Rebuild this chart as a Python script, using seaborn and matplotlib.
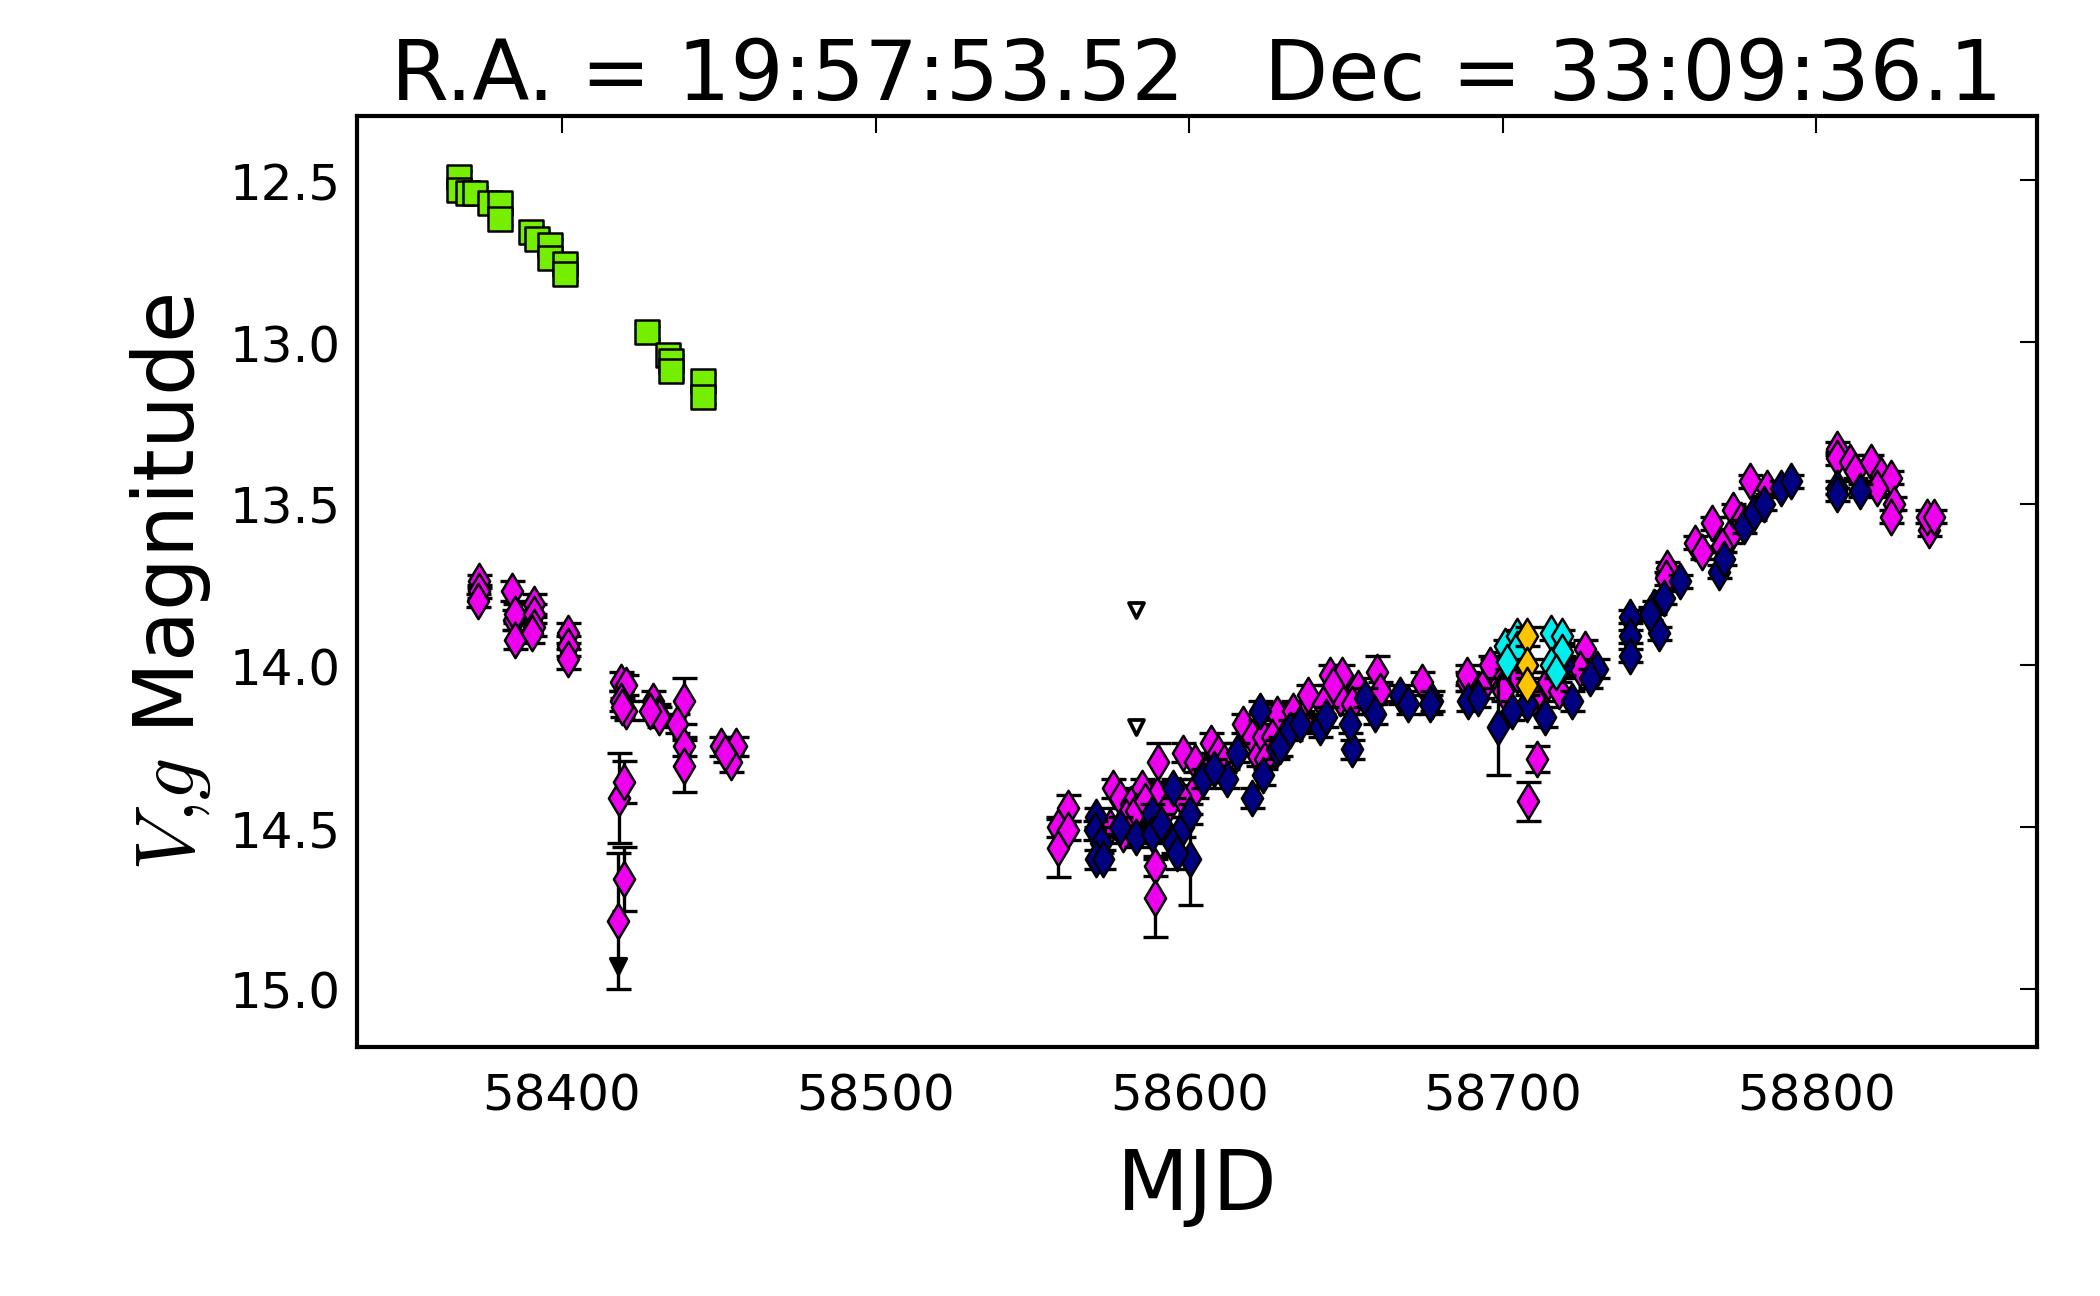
import numpy as np
import matplotlib
matplotlib.use("Agg")
import matplotlib.pyplot as plt
import seaborn as sns

# ---------------- data ----------------
# V-band (green squares)
mjd_V = [58367.2, 58367.2, 58370.0, 58372.3, 58377.0, 58380.2, 58380.2, 58390.0, 58392.0,
         58396.1, 58396.1, 58401.0, 58401.0, 58427.1, 58433.9, 58434.8, 58434.8, 58445.1, 58445.1]
mag_V = [12.49, 12.53, 12.54, 12.54, 12.57, 12.57, 12.62, 12.66, 12.68,
         12.70, 12.74, 12.76, 12.79, 12.97, 13.04, 13.06, 13.09, 13.12, 13.17]
err_V = [0.02, 0.02, 0.02, 0.02, 0.02, 0.02, 0.02, 0.02, 0.02,
         0.02, 0.02, 0.02, 0.02, 0.02, 0.02, 0.02, 0.02, 0.02, 0.02]

# g-band camera 1 (magenta diamonds)
mjd_g1 = [58373.6, 58373.6, 58373.3, 58383.9, 58384.6, 58385.0, 58385.0, 58391.0, 58391.0,
          58391.0, 58390.5, 58401.8, 58401.8, 58401.8, 58418.8, 58420.4, 58418.8, 58420.4,
          58419.0, 58418.0, 58419.6, 58419.6, 58417.7, 58428.9, 58430.5, 58431.0, 58428.0,
          58439.0, 58436.7, 58439.0, 58439.0, 58450.7, 58455.5, 58453.9, 58452.0,
          58558.2, 58558.2, 58561.2, 58561.2, 58575.7, 58577.9, 58574.7, 58578.8, 58581.6,
          58585.1, 58590.1, 58589.9, 58589.0, 58589.0, 58580.0, 58583.0, 58586.0,
          58598.1, 58601.8, 58607.1, 58609.2, 58602.3, 58597.0, 58605.0, 58593.0, 58611.0,
          58617.2, 58625.7, 58627.9, 58620.0, 58622.0, 58623.6, 58624.2, 58626.3,
          58633.0, 58636.0, 58638.0, 58644.9, 58648.6, 58648.1, 58642.8, 58654.0, 58659.8,
          58660.9, 58674.2, 58688.5, 58693.3, 58696.5, 58646.0, 58652.0,
          58688.5, 58696.0, 58704.5, 58714.6, 58726.4, 58724.8, 58711.0, 58708.2,
          58700.0, 58710.0, 58718.0,
          58752.4, 58752.0, 58761.4, 58763.5, 58766.7, 58772.6, 58773.6, 58779.0, 58784.3,
          58770.0, 58776.0,
          58806.6, 58806.6, 58810.9, 58812.5, 58817.3, 58820.5, 58823.7, 58819.4, 58824.8,
          58823.7, 58835.9, 58835.4, 58837.5]
mag_g1 = [13.74, 13.77, 13.80, 13.77, 13.86, 13.84, 13.92, 13.81, 13.84,
          13.88, 13.90, 13.90, 13.94, 13.98, 14.05, 14.06, 14.11, 14.14,
          14.13, 14.41, 14.36, 14.66, 14.79, 14.11, 14.15, 14.16, 14.14,
          14.11, 14.18, 14.25, 14.31, 14.25, 14.25, 14.30, 14.27,
          14.50, 14.565, 14.44, 14.51, 14.38, 14.41, 14.50, 14.52, 14.43,
          14.38, 14.30, 14.40, 14.62, 14.72, 14.47, 14.45, 14.42,
          14.27, 14.30, 14.24, 14.27, 14.38, 14.40, 14.33, 14.44, 14.30,
          14.18, 14.24, 14.15, 14.22, 14.28, 14.22, 14.29, 14.22,
          14.14, 14.17, 14.09, 14.03, 14.03, 14.10, 14.12, 14.07, 14.02,
          14.08, 14.05, 14.05, 14.07, 14.01, 14.06, 14.12,
          14.03, 14.00, 14.03, 14.05, 13.95, 14.01, 14.29, 14.42,
          14.08, 14.10, 14.08,
          13.70, 13.73, 13.62, 13.65, 13.56, 13.60, 13.52, 13.43, 13.45,
          13.63, 13.55,
          13.33, 13.36, 13.37, 13.40, 13.37, 13.41, 13.42, 13.45, 13.50,
          13.54, 13.58, 13.54, 13.54]
err_g1 = [0.02, 0.02, 0.02, 0.03, 0.03, 0.03, 0.03, 0.03, 0.03,
          0.03, 0.03, 0.03, 0.03, 0.03, 0.03, 0.03, 0.03, 0.03,
          0.03, 0.14, 0.065, 0.10, 0.21, 0.03, 0.03, 0.03, 0.03,
          0.07, 0.03, 0.03, 0.08, 0.03, 0.03, 0.03, 0.03,
          0.03, 0.09, 0.04, 0.03, 0.03, 0.03, 0.03, 0.03, 0.03,
          0.03, 0.06, 0.03, 0.03, 0.12, 0.03, 0.03, 0.03,
          0.03, 0.03, 0.03, 0.03, 0.03, 0.03, 0.03, 0.03, 0.03,
          0.03, 0.03, 0.03, 0.03, 0.03, 0.03, 0.03, 0.03,
          0.03, 0.03, 0.03, 0.03, 0.03, 0.03, 0.03, 0.03, 0.05,
          0.03, 0.03, 0.03, 0.03, 0.03, 0.03, 0.03,
          0.03, 0.03, 0.03, 0.03, 0.03, 0.03, 0.04, 0.06,
          0.03, 0.03, 0.03,
          0.02, 0.02, 0.02, 0.02, 0.02, 0.02, 0.02, 0.02, 0.02,
          0.02, 0.02,
          0.02, 0.02, 0.02, 0.02, 0.02, 0.02, 0.02, 0.02, 0.02,
          0.02, 0.02, 0.02, 0.02]

# g-band camera 2 (navy diamonds)
mjd_g2 = [58570.4, 58569.9, 58572.0, 58570.4, 58572.5, 58583.2, 58588.3, 58588.3, 58594.9,
          58594.9, 58598.1, 58600.2, 58600.2, 58596.0, 58604.5, 58612.0, 58615.1, 58622.6,
          58619.9, 58608.0, 58623.6, 58627.9, 58591.0, 58578.0,
          58628.9, 58632.1, 58635.3, 58641.7, 58643.8, 58651.8, 58651.3, 58656.1, 58659.2,
          58667.2, 58669.9, 58677.3, 58689.0, 58698.6, 58676.8, 58692.0, 58707.6, 58713.5,
          58722.0, 58730.0, 58727.9, 58719.3, 58703.0,
          58740.6, 58740.6, 58740.6, 58749.7, 58748.1, 58751.3, 58756.6, 58747.0, 58768.9,
          58770.5, 58776.8, 58780.0, 58783.2, 58788.6, 58791.8, 58806.6, 58814.0, 58806.6]
mag_g2 = [14.47, 14.51, 14.55, 14.60, 14.60, 14.53, 14.46, 14.52, 14.55,
          14.38, 14.50, 14.46, 14.60, 14.58, 14.35, 14.35, 14.27, 14.14,
          14.41, 14.32, 14.34, 14.26, 14.49, 14.50,
          14.25, 14.20, 14.18, 14.19, 14.16, 14.26, 14.18, 14.10, 14.15,
          14.09, 14.12, 14.11, 14.11, 14.19, 14.12, 14.10, 14.12, 14.16,
          14.11, 14.01, 14.04, 14.00, 14.14,
          13.85, 13.91, 13.97, 13.90, 13.82, 13.79, 13.74, 13.84, 13.71,
          13.67, 13.57, 13.53, 13.50, 13.45, 13.43, 13.45, 13.46, 13.47]
err_g2 = [0.03, 0.03, 0.03, 0.03, 0.03, 0.03, 0.03, 0.03, 0.03,
          0.03, 0.03, 0.03, 0.14, 0.05, 0.03, 0.03, 0.03, 0.03,
          0.03, 0.03, 0.03, 0.03, 0.03, 0.03,
          0.03, 0.03, 0.03, 0.03, 0.03, 0.03, 0.03, 0.03, 0.03,
          0.03, 0.03, 0.03, 0.03, 0.15, 0.03, 0.03, 0.03, 0.03,
          0.03, 0.03, 0.03, 0.03, 0.03,
          0.02, 0.02, 0.02, 0.02, 0.02, 0.02, 0.02, 0.02, 0.02,
          0.02, 0.02, 0.02, 0.02, 0.02, 0.02, 0.02, 0.02, 0.02]

# g-band camera 3 (cyan diamonds)
mjd_g3 = [58700.7, 58704.5, 58704.7, 58701.3, 58715.4, 58718.8, 58718.8, 58715.4, 58717.0]
mag_g3 = [13.94, 13.91, 13.95, 13.99, 13.90, 13.91, 13.96, 14.00, 14.02]
err_g3 = [0.02, 0.02, 0.02, 0.02, 0.02, 0.02, 0.02, 0.02, 0.02]

# g-band camera 4 (gold diamonds)
mjd_g4 = [58707.6, 58707.6, 58707.6]
mag_g4 = [13.91, 14.00, 14.06]
err_g4 = [0.03, 0.02, 0.02]

# upper limits
mjd_lim_open = [58583.2, 58583.2]
mag_lim_open = [13.83, 14.19]
mjd_lim_fill = [58417.7]
mag_lim_fill = [14.93]

title_text = "R.A. = 19:57:53.52   Dec = 33:09:36.1"
xticks = [58400, 58500, 58600, 58700, 58800]
yticks = [12.5, 13.0, 13.5, 14.0, 14.5, 15.0]

# ---------------- plot ----------------
sns.set_style("white")
plt.rcParams['font.family'] = ['DejaVu Sans']
plt.rcParams['mathtext.fontset'] = 'cm'
plt.rcParams['text.color'] = 'black'
plt.rcParams['axes.labelcolor'] = 'black'
plt.rcParams['xtick.color'] = 'black'
plt.rcParams['ytick.color'] = 'black'

fig = plt.figure(figsize=(7, 4.3233), dpi=300)
ax = fig.add_axes([0.170, 0.192, 0.800, 0.718])

ebkw = dict(fmt='none', ecolor='k', elinewidth=0.8, capsize=3, capthick=0.8)

def draw(x, y, e, marker, color, ms, z):
    ax.errorbar(x, y, yerr=e, zorder=z, **ebkw)
    sns.scatterplot(x=x, y=y, marker=marker, s=ms ** 2, color=color,
                    edgecolor='k', linewidth=0.6, ax=ax, zorder=z + 0.5, legend=False)

draw(mjd_V, mag_V, err_V, 's', '#76EE00', 5.8, 2)
draw(mjd_g1, mag_g1, err_g1, 'd', '#EE00EE', 6.0, 3)
draw(mjd_g2, mag_g2, err_g2, 'd', '#000080', 6.0, 4)
draw(mjd_g3, mag_g3, err_g3, 'd', '#00EEEE', 6.0, 5)
draw(mjd_g4, mag_g4, err_g4, 'd', '#FFC400', 6.0, 6)

sns.scatterplot(x=mjd_lim_open, y=mag_lim_open, marker='v', s=3.6 ** 2, color='white',
                edgecolor='k', linewidth=0.9, ax=ax, zorder=7, legend=False)
sns.scatterplot(x=mjd_lim_fill, y=mag_lim_fill, marker='v', s=3.8 ** 2, color='k',
                edgecolor='k', linewidth=0.8, ax=ax, zorder=7, legend=False)

ax.set_xlim(58334.6, 58870.4)
ax.set_ylim(15.18, 12.30)
ax.set_xticks(xticks)
ax.set_yticks(yticks)
ax.set_yticklabels([f"{t:.1f}" for t in yticks])
ax.set_xticklabels([str(t) for t in xticks])

ax.tick_params(direction='in', length=4, width=0.5, top=True, right=True,
               labelsize=12)
ax.tick_params(axis='x', pad=6)
ax.tick_params(axis='y', pad=4)
for sp in ax.spines.values():
    sp.set_linewidth(1.0)
    sp.set_color('k')

ax.set_xlabel("MJD", fontsize=20, labelpad=6)
ax.set_ylabel(r"$V{,}g$ Magnitude", fontsize=20, labelpad=4)
ax.set_title(title_text, fontsize=20, pad=4)

fig.savefig("out.png", dpi=300)
